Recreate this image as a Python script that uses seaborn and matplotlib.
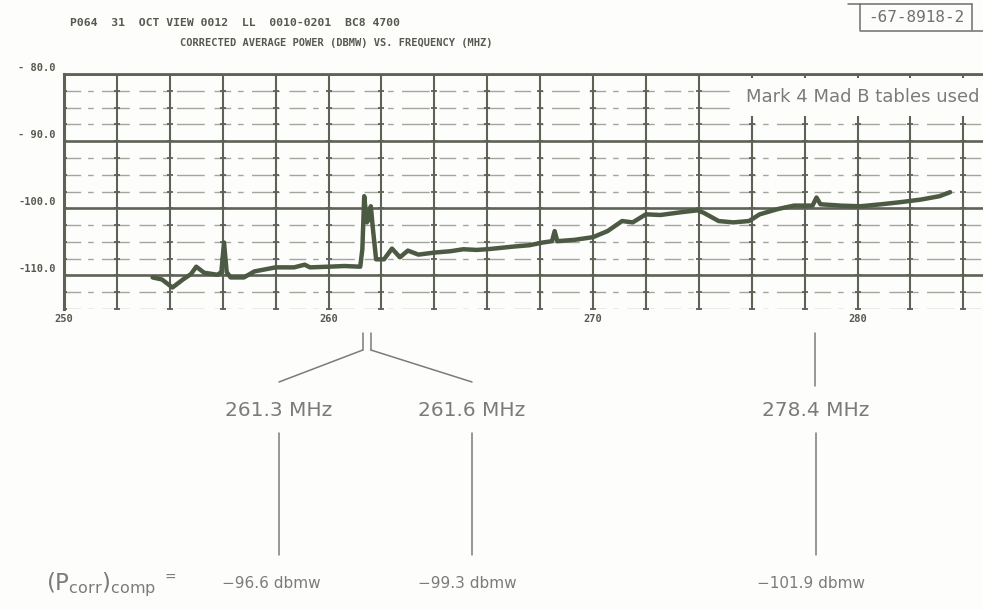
import numpy as np
import pandas as pd
import matplotlib
matplotlib.use("Agg")
import matplotlib.pyplot as plt
from matplotlib.lines import Line2D
import matplotlib.transforms as mtransforms
import seaborn as sns

# ---- data -------------------------------------------------------------
freq_mhz = [253.35, 253.7, 254.1, 254.5, 254.8, 255.0, 255.3, 255.8, 255.95,
            256.05, 256.15, 256.3, 256.8, 257.2, 257.6, 258.0, 258.7, 259.1,
            259.3, 260.0, 260.6, 261.2, 261.28, 261.35, 261.45, 261.5, 261.6,
            261.68, 261.8, 262.1, 262.4, 262.7, 263.0, 263.4, 264.0, 264.6,
            265.1, 265.6, 266.0, 266.5, 267.0, 267.6, 268.1, 268.45, 268.55,
            268.65, 269.3, 270.0, 270.55, 271.1, 271.5, 272.0, 272.55, 273.3,
            273.95, 274.2, 274.75, 275.3, 275.9, 276.3, 277.0, 277.6, 278.3,
            278.45, 278.6, 279.35, 280.1, 280.9, 281.6, 282.4, 283.1, 283.5]
power_dbmw = [-110.3, -110.6, -111.8, -110.6, -109.8, -108.7, -109.6, -109.9,
              -109.5, -105.1, -109.5, -110.3, -110.3, -109.4, -109.1, -108.8,
              -108.8, -108.4, -108.8, -108.7, -108.6, -108.7, -106.1, -98.2,
              -102.1, -101.8, -99.7, -103.1, -107.6, -107.6, -106.0, -107.3,
              -106.3, -106.9, -106.6, -106.4, -106.1, -106.2, -106.1, -105.9,
              -105.7, -105.5, -105.1, -104.9, -103.4, -104.9, -104.7, -104.3,
              -103.4, -101.9, -102.1, -100.9, -101.0, -100.6, -100.3, -100.7,
              -101.9, -102.1, -101.9, -100.9, -100.1, -99.6, -99.6, -98.4,
              -99.4, -99.6, -99.7, -99.4, -99.1, -98.7, -98.2, -97.6]

y_ticks = [-80, -90, -100, -110]
y_tick_labels = ["- 80.0", "- 90.0", "-100.0", "-110.0"]
x_ticks = [250, 260, 270, 280]
x_tick_labels = ["250", "260", "270", "280"]

line_freqs = [261.3, 261.6, 278.4]
line_labels = ["261.3 MHz", "261.6 MHz", "278.4 MHz"]
p_corr_values = [-96.6, -99.3, -101.9]

header_1 = "P064  31  OCT VIEW 0012  LL  0010-0201  BC8 4700"
header_2 = "CORRECTED AVERAGE POWER (DBMW) VS. FREQUENCY (MHZ)"
report_id = "-67-8918-2"
note = "Mark 4 Mad B tables used"

df = pd.DataFrame({"freq": freq_mhz, "power": power_dbmw})

# ---- figure setup -------------------------------------------------------
sns.set_theme(style="white")
plt.rcParams["font.family"] = ["DejaVu Sans"]
plt.rcParams["mathtext.fontset"] = "dejavusans"

W, H = 983, 610
fig = plt.figure(figsize=(W / 100, H / 100), dpi=100)
bg = "#fdfdfc"
fig.patch.set_facecolor(bg)


def fx(px):
    return px / W


def fy(py):
    return 1 - py / H


x_min, x_max = 250, 290
y_min, y_max = -115, -80
px_per_mhz = 26.45
ax_left, ax_top, ax_bottom = 64, 74, 309
ax = fig.add_axes([fx(ax_left), fy(ax_bottom),
                   (x_max - x_min) * px_per_mhz / W, (ax_bottom - ax_top) / H])
ax.set_facecolor("none")
ax.set_xlim(x_min, x_max)
ax.set_ylim(y_min, y_max)

grid_dark = "#5d6257"
grid_light = "#a3a69d"

# vertical grid every 2 MHz
v_lines = np.arange(x_min, x_max + 0.1, 2)
for xv in v_lines:
    ax.axvline(xv, color=grid_dark, lw=1.5, zorder=1)

# horizontal grid: solid every 10 dB, broken every 2.5 dB
h_lines = np.arange(y_min, y_max + 0.1, 2.5)
for yv in h_lines:
    if yv % 10 == 0:
        ax.axhline(yv, color=grid_dark, lw=1.9, zorder=1)
    else:
        ax.axhline(yv, color=grid_light, lw=1.0, zorder=1,
                   dashes=(12, 5, 4, 6, 20, 7))

# small crosses at the grid intersections
gx, gy = np.meshgrid(v_lines, h_lines)
ax.plot(gx.ravel(), gy.ravel(), linestyle="none", marker="+", ms=5,
        mew=1.3, color=grid_dark, zorder=2)

for side in ["right", "bottom"]:
    ax.spines[side].set_visible(False)
ax.spines["left"].set_color(grid_dark)
ax.spines["left"].set_linewidth(2.2)
ax.spines["top"].set_color(grid_dark)
ax.spines["top"].set_linewidth(2.0)

# measured trace
sns.lineplot(data=df, x="freq", y="power", ax=ax, sort=False, estimator=None,
             color="#4c5a43", lw=3.2, zorder=3)
ax.set_xlabel("")
ax.set_ylabel("")
ax.set_xticks([])
ax.set_yticks([])

# printer-style tick labels
tick_font = dict(family="DejaVu Sans Mono", weight="bold", size=7.5,
                 color="#55594f")
ytrans = mtransforms.blended_transform_factory(ax.transAxes, ax.transData)
for yv, lab in zip(y_ticks, y_tick_labels):
    ax.text(0, yv, lab, transform=ytrans + mtransforms.ScaledTranslation(
        -8 / 100, 6 / 100, fig.dpi_scale_trans), ha="right", va="center",
        clip_on=False, **tick_font)
for xv, lab in zip(x_ticks, x_tick_labels):
    ax.text(xv, y_min, lab, transform=ax.transData + mtransforms.ScaledTranslation(
        0, -10 / 100, fig.dpi_scale_trans), ha="center", va="center",
        clip_on=False, **tick_font)

# header lines
fig.text(fx(70), fy(23), header_1, ha="left", va="center",
         **{**tick_font, "size": 8.2})
fig.text(fx(180), fy(43), header_2, ha="left", va="center", **tick_font)

# report number box
box_col = "#6e6e6e"
for (x0, y0, x1, y1) in [(848, 4, 972, 4), (860, 4, 860, 30), (972, 4, 972, 30),
                         (860, 31, 983, 31)]:
    fig.add_artist(Line2D([fx(x0), fx(x1)], [fy(y0), fy(y1)], color=box_col,
                          lw=1.1, transform=fig.transFigure))
fig.text(fx(916), fy(18), report_id, ha="center", va="center",
         family="DejaVu Sans Mono", size=11.5, color="#707070")

anno_col = "#7b7b7b"
fig.text(fx(980), fy(97), note, ha="right", va="center", size=13,
         color=anno_col, zorder=5,
         bbox=dict(boxstyle="square,pad=0.55", facecolor=bg, edgecolor="none"))

# leader lines from the spectral lines down to the labels
xfig = mtransforms.blended_transform_factory(ax.transData, fig.transFigure)
label_px = [279, 472, 816]
for f in line_freqs:
    fig.add_artist(Line2D([f, f], [fy(333), fy(350 if f < 270 else 386)],
                          color=anno_col, lw=1.1, transform=xfig))
for f, lx in zip(line_freqs[:2], label_px[:2]):
    top = ax.transData.transform((f, 0))[0] / W
    fig.add_artist(Line2D([top, fx(lx)], [fy(350), fy(382)], color=anno_col,
                          lw=1.1, transform=fig.transFigure))

for lab, lx in zip(line_labels, label_px):
    fig.text(fx(lx), fy(410), lab, ha="center", va="center", size=14.5,
             color=anno_col)
    fig.add_artist(Line2D([fx(lx), fx(lx)], [fy(433), fy(555)],
                          color=anno_col, lw=1.1, transform=fig.transFigure))

fig.text(fx(46), fy(585), r"$(\mathrm{P}_{\mathrm{corr}})_{\mathrm{comp}}$",
         ha="left", va="center", size=16.5, color=anno_col)
fig.text(fx(164), fy(578), "=", ha="left", va="center", size=10,
         color=anno_col)
value_px = [222, 418, 757]
for v, lx in zip(p_corr_values, value_px):
    fig.text(fx(lx), fy(583), f"\u2212{abs(v):.1f} dbmw", ha="left",
             va="center", size=11, color=anno_col)

fig.savefig("out.png", dpi=100, facecolor=fig.get_facecolor())
